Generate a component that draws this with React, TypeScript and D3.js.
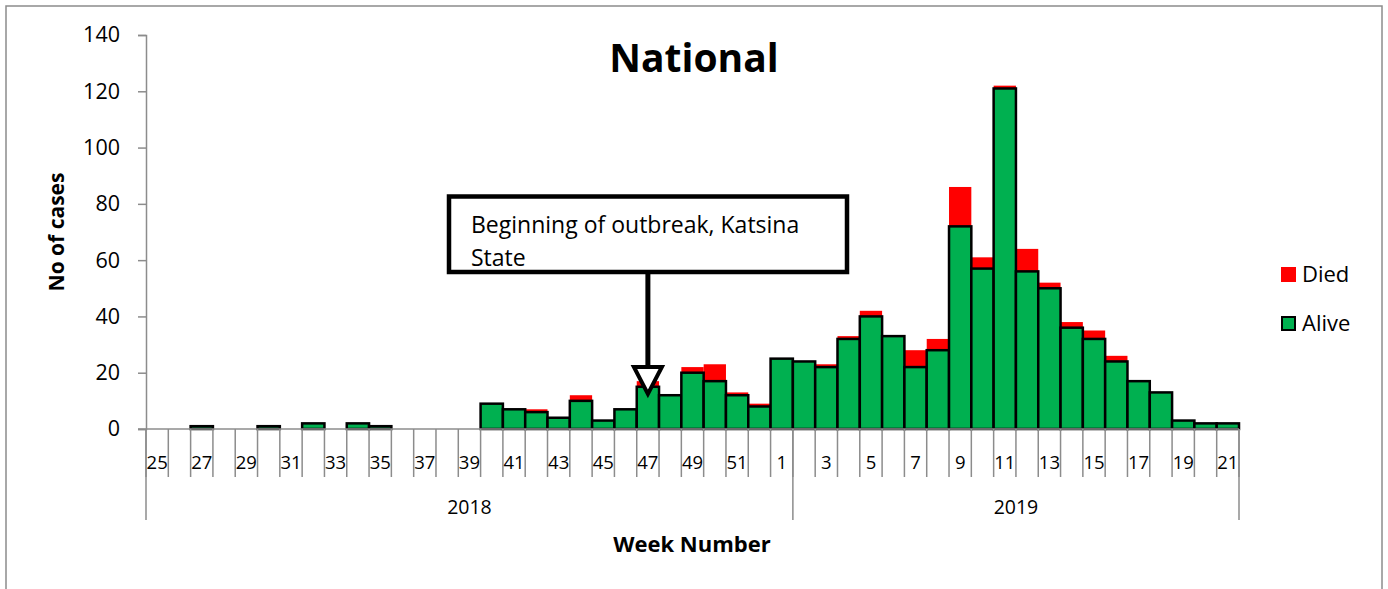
import React, { useEffect, useRef } from 'react';
import * as d3 from 'd3';

// week labels, 2018 wk 25 .. 2019 wk 21
const weekLabels = [
  '25', '26', '27', '28', '29', '30', '31', '32', '33', '34', '35', '36', '37', '38', '39',
  '40', '41', '42', '43', '44', '45', '46', '47', '48', '49', '50', '51', '52', '1',
  '2', '3', '4', '5', '6', '7', '8', '9', '10', '11', '12', '13', '14', '15', '16', '17',
  '18', '19', '20', '21',
];
const alive = [
  0, 0, 1, 0, 0, 1, 0, 2, 0, 2, 1, 0, 0, 0, 0,
  9, 7, 6, 4, 10, 3, 7, 15, 12, 20, 17, 12, 8, 25,
  24, 22, 32, 40, 33, 22, 28, 72, 57, 121, 56, 50, 36, 32, 24, 17,
  13, 3, 2, 2,
];
const died = [
  0, 0, 0, 0, 0, 0, 0, 0, 0, 0, 0, 0, 0, 0, 0,
  0, 0, 1, 0, 2, 0, 0, 2, 0, 2, 6, 1, 1, 0,
  0, 1, 1, 2, 0, 6, 4, 14, 4, 1, 8, 2, 2, 3, 2, 0,
  0, 0, 0, 0,
];
const yearLabels = ['2018', '2019'];
const yearSpans = [29, 20];
const yTicks = [0, 20, 40, 60, 80, 100, 120, 140];

const GREEN = '#00B050';
const RED = '#FF0000';
const GRAY = '#8c8c8c';
const FONT = '"Open Sans", "Noto Sans", sans-serif';

export default function App() {
  const ref = useRef<SVGSVGElement>(null);

  useEffect(() => {
    const svg = d3.select(ref.current);
    svg.selectAll('*').remove();

    const left = 146, right = 1239, top = 35, bottom = 429;
    const x = d3.scaleBand<number>().domain(d3.range(weekLabels.length)).range([left, right]).padding(0);
    const y = d3.scaleLinear().domain([0, 140]).range([bottom, top]);

    // outer frame
    svg.append('rect')
      .attr('x', 6).attr('y', 6).attr('width', 1376).attr('height', 600)
      .attr('fill', 'white').attr('stroke', GRAY).attr('stroke-width', 1.5);

    // title
    svg.append('text')
      .attr('x', 694).attr('y', 72).attr('text-anchor', 'middle')
      .attr('font-family', FONT).attr('font-weight', 700).attr('font-size', 39)
      .text('National');

    // y axis
    const yAxis = svg.append('g').attr('transform', `translate(${left},0)`)
      .call(d3.axisLeft(y).tickValues(yTicks).tickSize(8).tickPadding(18));
    yAxis.select('.domain').attr('stroke', GRAY).attr('stroke-width', 1.5);
    yAxis.selectAll('.tick line').attr('stroke', GRAY).attr('stroke-width', 1.5);
    yAxis.selectAll('.tick text')
      .attr('font-family', FONT).attr('font-size', 21.5).attr('fill', '#000');

    svg.append('text')
      .attr('transform', 'translate(64,232) rotate(-90)')
      .attr('text-anchor', 'middle')
      .attr('font-family', FONT).attr('font-weight', 700).attr('font-size', 21)
      .text('No of cases');

    // bars: died stacked on alive
    const idx = d3.range(weekLabels.length);
    svg.append('g').selectAll('rect').data(idx).join('rect')
      .attr('x', (i) => x(i)!)
      .attr('y', (i) => y(alive[i] + died[i]))
      .attr('width', x.bandwidth())
      .attr('height', (i) => y(alive[i]) - y(alive[i] + died[i]))
      .attr('fill', RED);

    svg.append('g').selectAll('rect').data(idx.filter((i) => alive[i] > 0)).join('rect')
      .attr('x', (i) => x(i)!)
      .attr('y', (i) => y(alive[i]))
      .attr('width', x.bandwidth())
      .attr('height', (i) => y(0) - y(alive[i]))
      .attr('fill', GREEN).attr('stroke', '#000').attr('stroke-width', 2.5);

    // x axis
    const xg = svg.append('g');
    xg.append('line')
      .attr('x1', left - 8).attr('x2', right).attr('y1', bottom).attr('y2', bottom)
      .attr('stroke', GRAY).attr('stroke-width', 1.5);
    xg.selectAll('line.wk').data(d3.range(weekLabels.length + 1)).join('line')
      .attr('class', 'wk')
      .attr('x1', (i) => left + i * x.step()).attr('x2', (i) => left + i * x.step())
      .attr('y1', bottom).attr('y2', 477)
      .attr('stroke', GRAY).attr('stroke-width', 1.5);
    xg.selectAll('text.wk').data(idx.filter((i) => i % 2 === 0)).join('text')
      .attr('class', 'wk')
      .attr('x', (i) => x(i)! + x.bandwidth() / 2).attr('y', 469)
      .attr('text-anchor', 'middle')
      .attr('font-family', FONT).attr('font-size', 18.5)
      .text((i) => weekLabels[i]);

    const bounds = [0, ...d3.cumsum(yearSpans)];
    xg.selectAll('line.yr').data(bounds).join('line')
      .attr('class', 'yr')
      .attr('x1', (b) => left + b * x.step()).attr('x2', (b) => left + b * x.step())
      .attr('y1', bottom).attr('y2', 520)
      .attr('stroke', GRAY).attr('stroke-width', 1.5);
    xg.selectAll('text.yr').data(yearLabels).join('text')
      .attr('class', 'yr')
      .attr('x', (_, i) => left + ((bounds[i] + bounds[i + 1]) / 2) * x.step())
      .attr('y', 514).attr('text-anchor', 'middle')
      .attr('font-family', FONT).attr('font-size', 19.5)
      .text((d) => d);

    svg.append('text')
      .attr('x', 692).attr('y', 552).attr('text-anchor', 'middle')
      .attr('font-family', FONT).attr('font-weight', 700).attr('font-size', 22)
      .text('Week Number');

    // legend
    const lg = svg.append('g').attr('font-family', FONT).attr('font-size', 22);
    lg.append('rect').attr('x', 1281).attr('y', 267).attr('width', 15).attr('height', 15).attr('fill', RED);
    lg.append('text').attr('x', 1302).attr('y', 282).text('Died');
    lg.append('rect').attr('x', 1282).attr('y', 317).attr('width', 13).attr('height', 13)
      .attr('fill', GREEN).attr('stroke', '#000').attr('stroke-width', 2);
    lg.append('text').attr('x', 1302).attr('y', 331).text('Alive');

    // annotation
    const ax = x(22)! + x.bandwidth() / 2;
    const an = svg.append('g');
    an.append('rect').attr('x', 449).attr('y', 196.5).attr('width', 398).attr('height', 75.5)
      .attr('fill', 'white').attr('stroke', '#000').attr('stroke-width', 4.5);
    an.append('text').attr('font-family', FONT).attr('font-size', 23)
      .selectAll('tspan').data(['Beginning of outbreak, Katsina', 'State']).join('tspan')
      .attr('x', 471).attr('y', (_, i) => 233 + i * 33)
      .text((d) => d);
    an.append('line').attr('x1', ax).attr('x2', ax).attr('y1', 272).attr('y2', 367)
      .attr('stroke', '#000').attr('stroke-width', 5);
    an.append('path')
      .attr('d', `M${ax - 14},367 L${ax + 14},367 L${ax},394 Z`)
      .attr('fill', 'white').attr('stroke', '#000').attr('stroke-width', 4).attr('stroke-linejoin', 'miter');
  }, []);

  return (
    <svg ref={ref} width={1388} height={589}
      style={{ position: 'absolute', left: 0, top: 0, background: 'white' }} />
  );
}
